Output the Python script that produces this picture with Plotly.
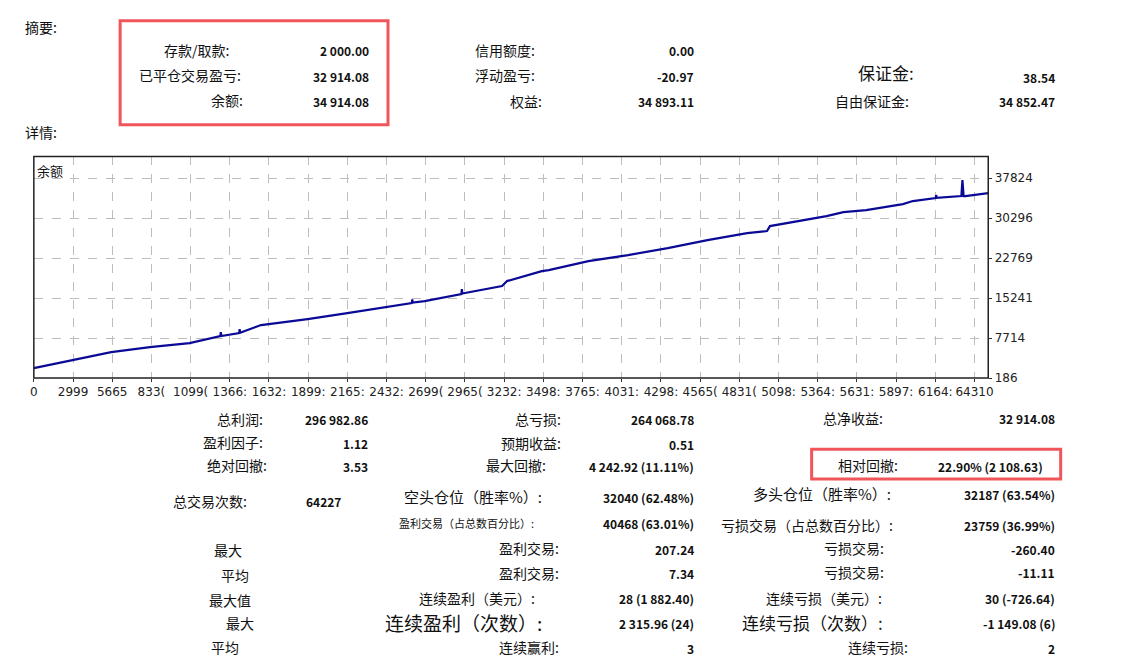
import plotly.graph_objects as go

W, H = 1141, 665
DX, DY = 9, 7  # page offset of the rendered figure

# balance curve (trade index, balance)
trade_idx = [0, 2607, 5214, 7821, 10495, 12567, 12600, 12634, 13837, 13870, 13900,
             15308, 18450, 21124, 23798, 25469, 25500, 25530, 26338, 28812, 28840,
             28870, 31553, 31887, 34227, 34695, 37369, 40043, 42717, 45390, 48065,
             49402, 49602, 53412, 54549, 56086, 58560, 59228, 60766, 60800, 60840,
             62500, 62571, 62650, 62771, 64310]
balance = [2068, 3574, 5080, 6020, 6773, 8090, 8843, 8090, 8655, 9400, 8700,
           10160, 11290, 12419, 13548, 14301, 15000, 14400, 14677, 15995, 16936,
           16100, 17500, 18441, 20323, 20512, 22205, 23335, 24652, 26158, 27475,
           27851, 28792, 30674, 31427, 31804, 32933, 33497, 34062, 34627, 34100,
           34438, 37450, 34438, 34438, 35000]

y_ticks = [186, 7714, 15241, 22769, 30296, 37824]
x_tick_vals = [k * 2641 for k in range(25)]
x_tick_text = ["0", "2999", "5665", "833(", "1099(", "1366:", "1632:", "1899:", "2165:",
               "2432:", "2699(", "2965(", "3232:", "3498:", "3765:", "4031:", "4298:",
               "4565(", "4831(", "5098:", "5364:", "5631:", "5897:", "6164:", "64310"]

font = "Noto Sans CJK SC, Noto Sans, sans-serif"


def px(x):
    return (x - DX) / W


def py(y):
    return 1 - (y - DY) / H


fig = go.Figure()
fig.add_trace(go.Scatter(x=trade_idx, y=balance, mode="lines",
                         line=dict(color="#0a0a96", width=2.2), hoverinfo="skip"))

x0, x1, yt, yb = 31, 993, 157, 381
tickfont = dict(size=12, family="DejaVu Sans, sans-serif", color="#222")
fig.update_layout(
    width=W, height=H, margin=dict(l=0, r=0, t=0, b=0),
    paper_bgcolor="white", plot_bgcolor="white", showlegend=False,
    font=dict(family=font, color="#111"),
    xaxis=dict(domain=[px(x0), px(x1)], range=[0, 64310], tickvals=x_tick_vals,
               ticktext=x_tick_text, showgrid=True, gridcolor="#bdbdbd", griddash="dash",
               zeroline=False, ticks="outside", ticklen=3, tickcolor="#333",
               tickfont=tickfont),
    yaxis=dict(domain=[py(yb), py(yt)], range=[186, 41900], side="right",
               tickvals=y_ticks, ticktext=[str(v) for v in y_ticks],
               showgrid=True, gridcolor="#bdbdbd", griddash="dash",
               zeroline=False, ticks="outside", ticklen=3, tickcolor="#333",
               tickfont=tickfont),
)

shapes = [
    dict(type="rect", xref="paper", yref="paper", x0=px(x0), x1=px(x1),
         y0=py(yb), y1=py(yt), line=dict(color="#222", width=1.5)),
    dict(type="rect", xref="paper", yref="paper", x0=px(20), x1=px(1055),
         y0=py(4), y1=1, fillcolor="#e2e2e2", line=dict(width=0)),
    dict(type="rect", xref="paper", yref="paper", x0=px(118), x1=px(388),
         y0=py(125), y1=py(20), line=dict(color="#f0555a", width=3)),
    dict(type="rect", xref="paper", yref="paper", x0=px(815), x1=px(1066),
         y0=py(483), y1=py(453), line=dict(color="#f0555a", width=3)),
]
fig.update_layout(shapes=shapes)

anns = []


def ann(text, x, y, anchor="right", size=14, bold=False):
    if bold:
        text = "<b>" + text + "</b>"
    anns.append(dict(text=text, x=px(x), y=py(y), xref="paper", yref="paper",
                     xanchor=anchor, yanchor="middle", showarrow=False,
                     font=dict(size=size, family=font, color="#111")))


def row(label, lx, val, vx, y, size=14):
    ann(label, lx, y, size=size)
    ann(val, vx, y + 1, size=12, bold=True)


ann("摘要:", 20, 26, "left")
ann("详情:", 20, 132, "left")
ann("余额", 32, 171, "left", 13)

row("存款/取款:", 230, "2 000.00", 371, 49)
row("已平仓交易盈亏:", 242, "32 914.08", 371, 75)
row("余额:", 244, "34 914.08", 371, 100)
row("信用额度:", 538, "0.00", 698, 49)
row("浮动盈亏:", 538, "-20.97", 698, 75)
row("权益:", 545, "34 893.11", 698, 101)
ann("保证金:", 920, 72, size=17)
ann("<b>38.54</b>", 1062, 77, size=12)
row("自由保证金:", 915, "34 852.47", 1062, 101)

row("总利润:", 264, "296 982.86", 370, 422)
row("总亏损:", 564, "264 068.78", 698, 422)
row("总净收益:", 889, "32 914.08", 1062, 421)
row("盈利因子:", 264, "1.12", 370, 446)
row("预期收益:", 564, "0.51", 698, 447)
row("绝对回撤:", 268, "3.53", 370, 469)
row("最大回撤:", 549, "4 242.92 (11.11%)", 698, 469)
row("相对回撤:", 904, "22.90% (2 108.63)", 1050, 469)
row("总交易次数:", 248, "64227", 343, 505)
row("空头仓位（胜率%）:", 545, "32040 (62.48%)", 698, 501, 15)
row("多头仓位（胜率%）:", 897, "32187 (63.54%)", 1062, 498, 15)
row("盈利交易（占总数百分比）:", 537, "40468 (63.01%)", 698, 527, 11)
row("亏损交易（占总数百分比）:", 899, "23759 (36.99%)", 1062, 529, 14)

ann("最大", 227, 555, "center")
row("盈利交易:", 562, "207.24", 698, 553)
row("亏损交易:", 890, "-260.40", 1062, 553)
ann("平均", 234, 580, "center")
row("盈利交易:", 562, "7.34", 698, 578)
row("亏损交易:", 890, "-11.11", 1062, 577)
ann("最大值", 229, 605, "center")
row("连续盈利（美元）:", 538, "28 (1 882.40)", 698, 603)
row("连续亏损（美元）:", 888, "30 (-726.64)", 1062, 603)
ann("最大", 239, 629, "center")
row("连续盈利（次数）:", 545, "2 315.96 (24)", 698, 628, 19)
row("连续亏损（次数）:", 889, "-1 149.08 (6)", 1062, 628, 17)
ann("平均", 224, 653, "center")
row("连续赢利:", 562, "3", 698, 653)
row("连续亏损:", 914, "2", 1062, 653)

fig.update_layout(annotations=anns)
fig.write_html("out.html")
